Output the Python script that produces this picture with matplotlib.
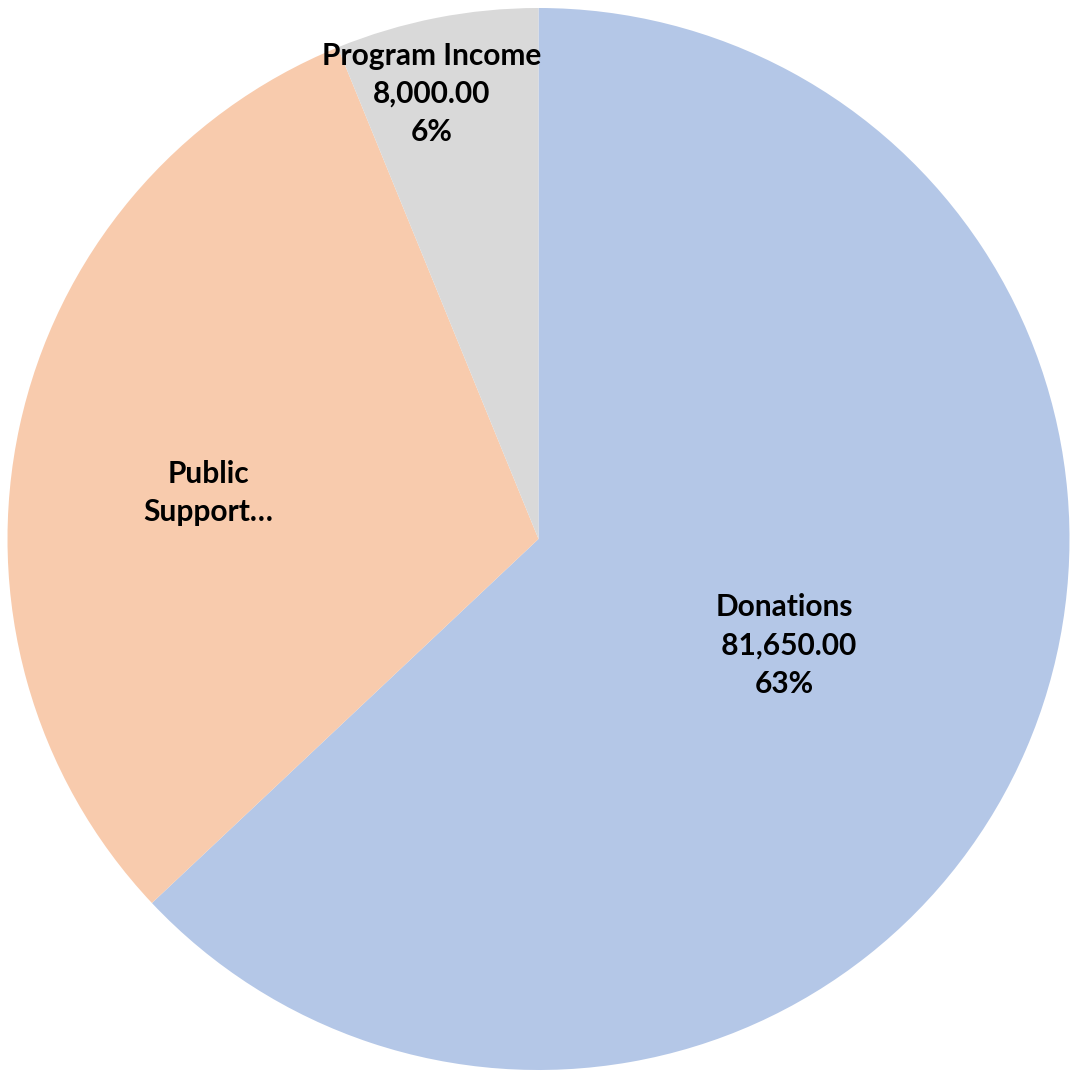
import numpy as np
import matplotlib
matplotlib.use("Agg")
import matplotlib.pyplot as plt

# ---- data ----
categories = ["Donations", "Public\nSupport\u2026", "Program Income"]
values = [81650.00, 40000.00, 8000.00]
value_text = [" 81,650.00", None, "8,000.00"]
colors = ["#B4C7E7", "#F8CBAD", "#D9D9D9"]

# label placement (fraction of radius, degrees off the wedge middle)
label_radius = [0.505, 0.628, 0.862]
label_shift = [0.0, 4.3, 2.4]

plt.rcParams['font.family'] = ['Lato', 'DejaVu Sans']

W, H = 1070, 1072
fig = plt.figure(figsize=(W / 100, H / 100), dpi=100)
ax = fig.add_axes([0, 0, 1, 1])

wedges, _ = ax.pie(values, colors=colors, startangle=90, counterclock=False,
                   wedgeprops=dict(linewidth=0))

# pixel geometry of the pie in the picture
cx, cy, r = 538.5, 539.0, 531.0
ax.set_xlim(-cx / r, (W - cx) / r)
ax.set_ylim(-(H - cy) / r, cy / r)
ax.set_aspect('auto')
ax.axis('off')

total = sum(values)
for w, cat, v, vt, rr, sh in zip(wedges, categories, values, value_text,
                                 label_radius, label_shift):
    mid = np.deg2rad((w.theta1 + w.theta2) / 2 + sh)
    txt = cat
    if vt is not None:
        txt += f"\n{vt}\n{v / total:.0%}"
    ax.text(rr * np.cos(mid), rr * np.sin(mid), txt, ha='center', va='center',
            fontsize=21.5, fontweight='bold', color='black', linespacing=1.45)

fig.savefig("out.png", dpi=100)
